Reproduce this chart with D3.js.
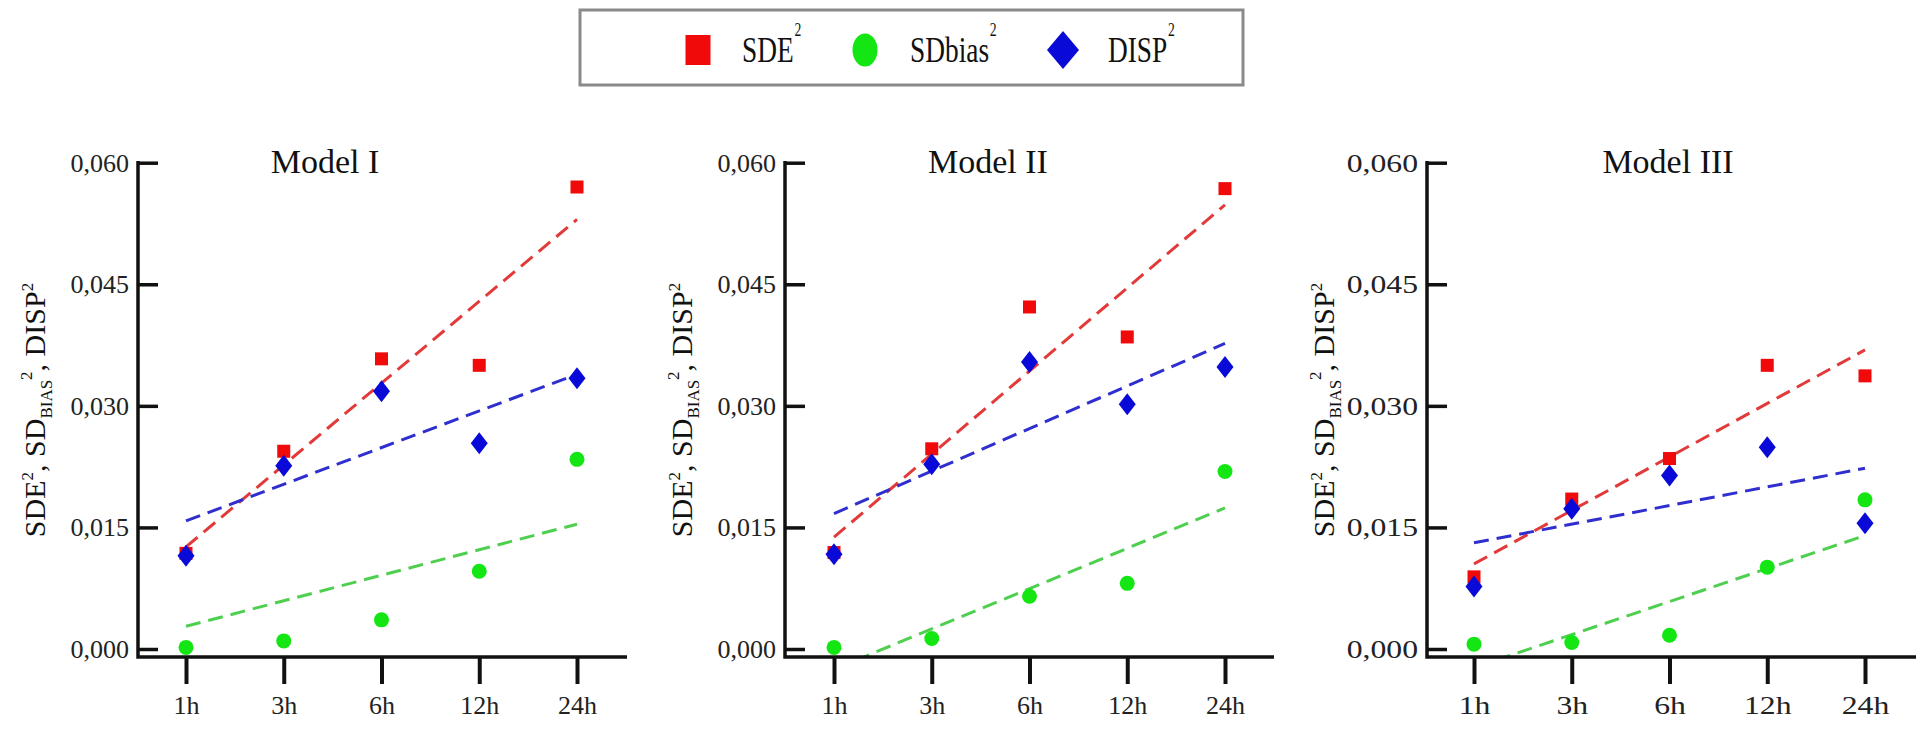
<!DOCTYPE html>
<html>
<head>
<meta charset="utf-8">
<script src="https://cdn.jsdelivr.net/npm/d3@7"></script>
<style>
  html, body { margin: 0; padding: 0; background: #fff; }
  svg { display: block; }
</style>
</head>
<body>
<svg id="chart" width="1927" height="730" font-family="Liberation Serif, Times New Roman, serif"></svg>
<script>
// Forecast horizons on the x axis
const hours = ["1h", "3h", "6h", "12h", "24h"];
// Y axis ticks
const yTicks = [0, 0.015, 0.030, 0.045, 0.060];
// Panel titles
const modelNames = ["Model I", "Model II", "Model III"];

// SDE^2 per model (rows) and horizon (columns)
const sde2 = [
  [0.0118, 0.0244, 0.0358, 0.0350, 0.0570],
  [0.0119, 0.0247, 0.0422, 0.0385, 0.0568],
  [0.0089, 0.0185, 0.0235, 0.0350, 0.0337]
];
// SDbias^2 per model
const sdbias2 = [
  [0.0002, 0.0010, 0.0036, 0.0096, 0.0234],
  [0.0002, 0.0013, 0.0065, 0.0081, 0.0219],
  [0.0006, 0.0008, 0.0017, 0.0101, 0.0184]
];
// DISP^2 per model
const disp2 = [
  [0.0115, 0.0226, 0.0318, 0.0254, 0.0334],
  [0.0117, 0.0228, 0.0354, 0.0302, 0.0348],
  [0.0077, 0.0173, 0.0214, 0.0249, 0.0155]
];

// Linear trend values at 1h and 24h for each model
const sdeTrend    = [[0.0126, 0.0530], [0.0138, 0.0548], [0.0105, 0.0369]];
const sdbiasTrend = [[0.0028, 0.0154], [-0.0025, 0.0174], [-0.0023, 0.0140]];
const dispTrend   = [[0.0158, 0.0339], [0.0167, 0.0377], [0.0131, 0.0223]];

// Legend labels (base text, superscript added when drawn)
const legendLabels = ["SDE", "SDbias", "DISP"];

const SERIF = "Liberation Serif, Times New Roman, serif";
const svg = d3.select("#chart");

const series = [
  { values: sde2,    trend: sdeTrend,    fill: "#f00a0a", line: "#e23a3a", shape: "square" },
  { values: sdbias2, trend: sdbiasTrend, fill: "#14e614", line: "#4fcf4f", shape: "circle" },
  { values: disp2,   trend: dispTrend,   fill: "#0a0ad8", line: "#2f2fcf", shape: "diamond" }
];

// Panel geometry
const axisXs = [138, 785, 1427];
const titleXs = [325, 988, 1668];
const catOffset = [48, 49, 47];
const catSpan = 391;
const axisLen = 489;
const xAxisY = 657;
const yAxisTop = 161;

const y = d3.scaleLinear().domain([0, 0.06]).range([649, 162.7]);
const fmt = d3.formatLocale({ decimal: ",", thousands: ".", grouping: [3], currency: ["", ""] }).format(".3f");

function drawMarker(sel, shape, color, cx, cy) {
  if (shape === "square") {
    sel.append("rect").attr("x", cx - 6.5).attr("y", cy - 6.5)
      .attr("width", 13).attr("height", 13).attr("fill", color);
  } else if (shape === "circle") {
    sel.append("circle").attr("cx", cx).attr("cy", cy).attr("r", 7.5).attr("fill", color);
  } else {
    sel.append("path")
      .attr("d", `M${cx},${cy - 11}L${cx + 8.5},${cy}L${cx},${cy + 11}L${cx - 8.5},${cy}Z`)
      .attr("fill", color);
  }
}

modelNames.forEach((name, m) => {
  const ax = axisXs[m];
  const stretch = m === 2 ? 1.22 : 1;   // third panel uses wider lettering

  const x = d3.scalePoint().domain(hours)
    .range([ax + catOffset[m], ax + catOffset[m] + catSpan]);

  const g = svg.append("g");

  // clip region for trend lines
  const clipId = "clip" + m;
  svg.append("clipPath").attr("id", clipId)
    .append("rect").attr("x", ax).attr("y", 140)
    .attr("width", axisLen).attr("height", xAxisY - 140);

  // trend lines
  const lineGen = d3.line().x(d => d[0]).y(d => y(d[1]));
  series.forEach(s => {
    const t = s.trend[m];
    g.append("path")
      .attr("clip-path", `url(#${clipId})`)
      .attr("d", lineGen([[x(hours[0]), t[0]], [x(hours[hours.length - 1]), t[1]]]))
      .attr("fill", "none")
      .attr("stroke", s.line)
      .attr("stroke-width", 3)
      .attr("stroke-dasharray", "15,8");
  });

  // markers
  series.forEach(s => {
    const mg = g.append("g");
    s.values[m].forEach((v, i) => drawMarker(mg, s.shape, s.fill, x(hours[i]), y(v)));
  });

  // y axis with inward ticks
  const yAxis = d3.axisLeft(y).tickValues(yTicks).tickFormat(fmt)
    .tickSize(-20).tickSizeOuter(0).tickPadding(0);
  const yg = g.append("g").attr("transform", `translate(${ax},0)`).call(yAxis);
  yg.attr("font-family", SERIF);
  yg.select(".domain").remove();
  yg.selectAll(".tick line").attr("stroke", "#111").attr("stroke-width", 3.5);
  yg.selectAll(".tick text")
    .attr("x", null)
    .attr("transform", `translate(-9,0) scale(${stretch},1)`)
    .attr("font-family", SERIF).attr("font-size", 26).attr("fill", "#222");

  // x axis with downward ticks
  const xAxis = d3.axisBottom(x).tickSize(27).tickSizeOuter(0).tickPadding(12);
  const xg = g.append("g").attr("transform", `translate(0,${xAxisY})`).call(xAxis);
  xg.attr("font-family", SERIF);
  xg.select(".domain").remove();
  xg.selectAll(".tick line").attr("stroke", "#111").attr("stroke-width", 4);
  xg.selectAll(".tick text")
    .attr("transform", `scale(${stretch},1)`)
    .attr("font-family", SERIF).attr("font-size", 26).attr("fill", "#222");

  // axis lines (L shape)
  g.append("path")
    .attr("d", `M${ax},${yAxisTop}V${xAxisY}H${ax + axisLen}`)
    .attr("fill", "none").attr("stroke", "#111").attr("stroke-width", 3.5);

  // panel title
  g.append("text").attr("x", titleXs[m]).attr("y", 173)
    .attr("text-anchor", "middle").attr("font-size", 34)
    .attr("font-family", SERIF).attr("fill", "#111")
    .text(name);

  // y axis title
  const yt = g.append("text")
    .attr("transform", `translate(${ax - 93},410) rotate(-90)`)
    .attr("text-anchor", "middle").attr("font-size", 30)
    .attr("font-family", SERIF).attr("fill", "#111");
  yt.append("tspan").text("SDE");
  yt.append("tspan").attr("font-size", 17).attr("dy", -12).text("2");
  yt.append("tspan").attr("dy", 12).text(", SD");
  yt.append("tspan").attr("font-size", 17).attr("dy", 7).text("BIAS");
  yt.append("tspan").attr("font-size", 17).attr("dy", -20).text("2");
  yt.append("tspan").attr("dy", 13).text(", DISP");
  yt.append("tspan").attr("font-size", 17).attr("dy", -12).text("2");
});

// Legend
const lg = svg.append("g");
lg.append("rect").attr("x", 580).attr("y", 10).attr("width", 663).attr("height", 75)
  .attr("fill", "#fff").attr("stroke", "#8a8a8a").attr("stroke-width", 3);

const legendMarkX = [698, 865, 1063];
const legendTextX = [742, 910, 1108];
series.forEach((s, i) => {
  const cx = legendMarkX[i], cy = 50;
  if (s.shape === "square") {
    lg.append("rect").attr("x", cx - 12.5).attr("y", cy - 15).attr("width", 25).attr("height", 30).attr("fill", s.fill);
  } else if (s.shape === "circle") {
    lg.append("ellipse").attr("cx", cx).attr("cy", cy).attr("rx", 12.5).attr("ry", 16.5).attr("fill", s.fill);
  } else {
    lg.append("path").attr("d", `M${cx},${cy - 19}L${cx + 16},${cy}L${cx},${cy + 19}L${cx - 16},${cy}Z`).attr("fill", s.fill);
  }
  const t = lg.append("text")
    .attr("transform", `translate(${legendTextX[i]},62) scale(0.76,1)`)
    .attr("font-size", 36).attr("font-family", SERIF).attr("fill", "#111");
  t.append("tspan").text(legendLabels[i]);
  t.append("tspan").attr("font-size", 18).attr("dy", -26).attr("dx", 1).text("2");
});
</script>
</body>
</html>
